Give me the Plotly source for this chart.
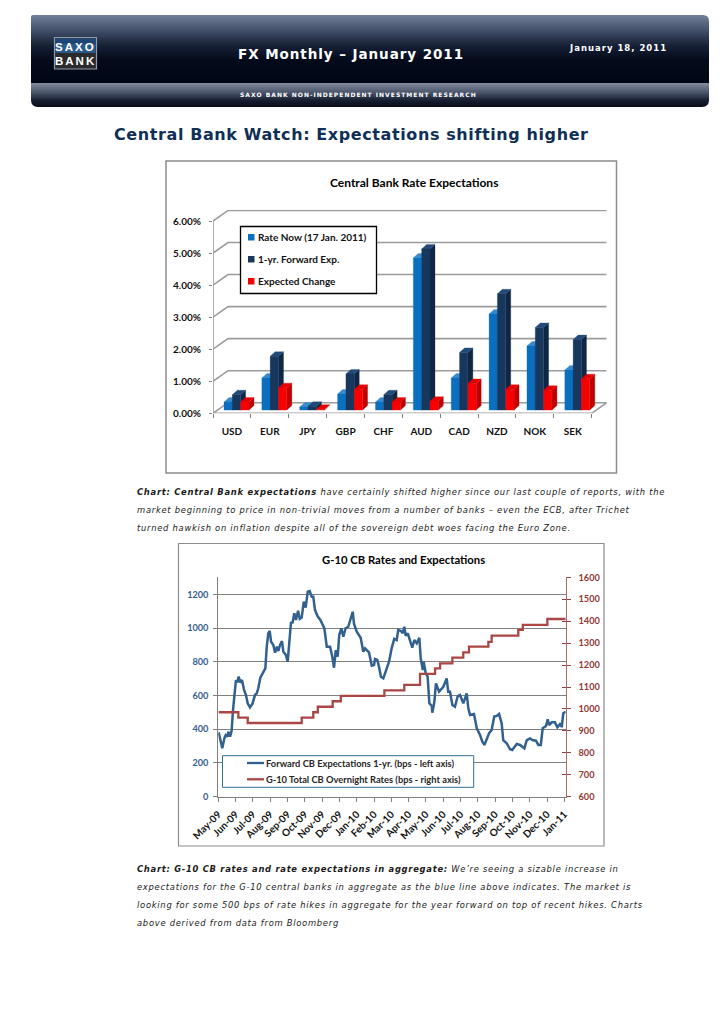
import plotly.graph_objects as go

W, H = 728, 1030

# ---------- data: chart 1 ----------
currencies = ["USD", "EUR", "JPY", "GBP", "CHF", "AUD", "CAD", "NZD", "NOK", "SEK"]
rate_now = [0.25, 1.00, 0.10, 0.50, 0.25, 4.75, 1.00, 3.00, 2.00, 1.25]
forward_exp = [0.48, 1.68, 0.12, 1.13, 0.48, 5.03, 1.80, 3.63, 2.58, 2.20]
expected_change = [0.25, 0.70, 0.03, 0.65, 0.25, 0.28, 0.83, 0.65, 0.62, 0.98]
pct_ticks = [0, 1, 2, 3, 4, 5, 6]
pct_labels = ["0.00%", "1.00%", "2.00%", "3.00%", "4.00%", "5.00%", "6.00%"]

# ---------- data: chart 2 ----------
month_labels = ["May-09", "Jun-09", "Jul-09", "Aug-09", "Sep-09", "Oct-09", "Nov-09", "Dec-09", "Jan-10", "Feb-10",
                "Mar-10", "Apr-10", "May-10", "Jun-10", "Jul-10", "Aug-10", "Sep-10", "Oct-10", "Nov-10", "Dec-10", "Jan-11"]
fwd_month = [0.02, 0.12, 0.23, 0.35, 0.43, 0.54, 0.58, 0.68, 0.77, 0.85, 0.92, 1.02, 1.10, 1.18, 1.27, 1.37, 1.49,
             1.60, 1.70, 1.83, 1.97, 2.12, 2.22, 2.31, 2.43, 2.60, 2.72, 2.80, 2.89, 2.97, 3.05, 3.18, 3.28, 3.39,
             3.47, 3.57, 3.68, 3.76, 3.91, 4.01, 4.10, 4.20, 4.30, 4.39, 4.49, 4.61, 4.71, 4.82, 4.94, 5.05, 5.17,
             5.28, 5.40, 5.49, 5.59, 5.75, 5.90, 6.13, 6.27, 6.46, 6.59, 6.69, 6.79, 6.90, 6.99, 7.11, 7.23, 7.36,
             7.51, 7.67, 7.77, 7.84, 8.00, 8.23, 8.38, 8.48, 8.71, 8.87, 9.00, 9.06, 9.19, 9.29, 9.40, 9.54, 9.73,
             9.87, 10.02, 10.17, 10.31, 10.40, 10.56, 10.66, 10.75, 10.83, 10.95, 11.08, 11.21, 11.33, 11.47, 11.62,
             11.70, 11.82, 11.87, 11.99, 12.10, 12.20, 12.34, 12.37, 12.49, 12.58, 12.76, 13.01, 13.20, 13.29, 13.39,
             13.53, 13.68, 13.84, 13.97, 14.16, 14.36, 14.45, 14.55, 14.78, 14.94, 15.13, 15.26, 15.38, 15.51, 15.65,
             15.80, 15.95, 16.09, 16.23, 16.38, 16.47, 16.67, 16.86, 16.99, 17.25, 17.44, 17.69, 17.83, 18.02, 18.15,
             18.36, 18.50, 18.64, 18.75, 18.94, 19.04, 19.12, 19.27, 19.46, 19.60, 19.79, 19.85, 19.94, 20.08]
fwd_bps = [382, 336, 287, 346, 366, 356, 385, 356, 391, 514, 590, 692, 678, 712, 678, 692, 633,
           603, 554, 530, 550, 603, 613, 643, 706, 741, 761, 890, 969, 983, 919, 900, 854, 890,
           864, 900, 923, 860, 840, 801, 939, 1032, 1034, 1088, 1048, 1103, 1054, 1062, 1157, 1121, 1216,
           1220, 1186, 1186, 1107, 1068, 1048, 999, 890, 890, 830, 765, 870, 830, 959, 999, 949, 999,
           1008, 1058, 1097, 1028, 979, 943, 860, 880, 856, 777, 781, 817, 811, 771, 712, 702, 761,
           801, 880, 936, 929, 989, 983, 969, 1008, 955, 969, 919, 884, 929, 910, 943,
           821, 751, 801, 732, 712, 554, 538, 498, 563, 672, 623, 652, 702, 623, 623,
           544, 534, 597, 603, 554, 613, 524, 485, 491, 406, 366, 326, 307, 336, 376,
           396, 475, 479, 491, 435, 336, 317, 281, 277, 313, 307, 287, 336, 346, 336,
           332, 307, 307, 406, 419, 459, 425, 441, 441, 412, 435, 412, 495, 504]
cb_month = [0.02, 1.16, 1.70, 4.82, 5.49, 5.75, 6.61, 7.08, 9.60, 10.75, 11.66, 12.53, 12.82, 13.53, 14.16, 14.49,
            15.61, 15.80, 17.34, 17.60, 19.02, 20.08]
cb_bps = [985, 960, 936, 960, 985, 1010, 1035, 1060, 1085, 1110, 1160, 1185, 1208, 1234, 1258, 1284,
          1306, 1334, 1360, 1383, 1410, 1410]
left_ticks = [0, 200, 400, 600, 800, 1000, 1200]
right_ticks = [600, 700, 800, 900, 1000, 1100, 1200, 1300, 1400, 1500, 1600]

# ---------- texts ----------
para1 = ["<b>Chart: Central Bank expectations</b> have certainly shifted higher since our last couple of reports, with the",
         "market beginning to price in non-trivial moves from a number of banks – even the ECB, after Trichet",
         "turned hawkish on inflation despite all of the sovereign debt woes facing the Euro Zone."]
para2 = ["<b>Chart: G-10 CB rates and rate expectations in aggregate:</b> We’re seeing a sizable increase in",
         "expectations for the G-10 central banks in aggregate as the blue line above indicates. The market is",
         "looking for some 500 bps of rate hikes in aggregate for the year forward on top of recent hikes. Charts",
         "above derived from data from Bloomberg"]

# ---------- helpers ----------
fx = lambda p: p / W
fy = lambda p: 1 - p / H
shapes, annos = [], []


def rect(x0, y0, x1, y1, fill=None, line=None, lw=1, layer="below"):
    shapes.append(dict(type="rect", xref="paper", yref="paper", x0=fx(x0), x1=fx(x1), y0=fy(y0), y1=fy(y1),
                       fillcolor=fill or "rgba(0,0,0,0)", line=dict(color=line or "rgba(0,0,0,0)", width=lw if line else 0),
                       layer=layer))


def txt(x, y, s, size, color="#000", family="Lato", anchor="left", spacing=None, style="normal", weight="normal"):
    if spacing is not None:
        s = f'<span style="letter-spacing:{spacing}px">{s}</span>'
    annos.append(dict(xref="paper", yref="paper", x=fx(x), y=fy(y), text=s, showarrow=False, xanchor=anchor,
                      yanchor="middle", align=anchor, borderpad=0,
                      font=dict(size=size, color=color, family=family, style=style, weight=weight)))


def lerp_stops(stops, y):
    for (y0, c0), (y1, c1) in zip(stops, stops[1:]):
        if y0 <= y <= y1:
            t = (y - y0) / (y1 - y0)
            return "rgb(%d,%d,%d)" % tuple(round(a + (b - a) * t) for a, b in zip(c0, c1))
    return "rgb(0,0,0)"


def corner(cx, cy, dx, dy):
    # white mask of a rounded corner; (cx, cy) is the square corner, dx/dy point inwards
    p = lambda a, b: f"{fx(a):.5f},{fy(b):.5f}"
    shapes.append(dict(type="path", xref="paper", yref="paper", layer="below", fillcolor="white", line=dict(width=0),
                       path=f"M{p(cx, cy)} L{p(cx + dx, cy)} Q{p(cx, cy)} {p(cx, cy + dy)} Z"))


# ---------- header band ----------
top_stops = [(15, (112, 126, 150)), (28, (72, 86, 112)), (45, (22, 32, 54)), (60, (3, 10, 26)), (83, (0, 6, 20))]
low_stops = [(83, (128, 138, 156)), (92, (74, 84, 106)), (100, (22, 30, 48)), (107, (6, 10, 24))]
for yy in range(15, 83):
    rect(31, yy, 709, yy + 1, fill=lerp_stops(top_stops, yy))
for yy in range(83, 107):
    rect(31, yy, 709, yy + 1, fill=lerp_stops(low_stops, yy))
corner(31, 107, 7, -7)
corner(709, 107, -7, -7)
corner(709, 15, -6, 6)
corner(31, 15, 2, 2)
# logo
rect(54.5, 37.5, 96.5, 69, line="#8f9aa8", lw=1.2, fill="#2b2b2e")
rect(55.5, 38.5, 95.5, 53, fill="#2a5a8c")
rect(55.5, 38.5, 95.5, 44, fill="#1d4674")
txt(75.5, 46.5, "SAXO", 11.5, "#ffffff", "Liberation Sans", "center", 2, weight="bold")
txt(75.5, 61, "BANK", 11.5, "#ffffff", "Liberation Sans", "center", 2, weight="bold")
txt(350.5, 54, "FX Monthly – January 2011", 13.5, "#ffffff", "DejaVu Sans", "center", 0.94, weight="bold")
txt(617.5, 48, "January 18, 2011", 8.5, "#ffffff", "DejaVu Sans", "center", 1, weight="bold")
txt(358.5, 95, "SAXO BANK NON-INDEPENDENT INVESTMENT RESEARCH", 6, "#ffffff", "DejaVu Sans", "center", 1.02, weight="bold")
txt(351, 135, "Central Bank Watch: Expectations shifting higher", 16, "#0f2f57", "DejaVu Sans", "center", 0.6, weight="bold")

# ---------- chart frames ----------
rect(166, 161, 616.5, 473, fill="#ffffff", line="#8c8c8c", lw=1.5)
rect(178.5, 543.5, 604, 846, fill="#ffffff", line="#8c8c8c", lw=1.2)

# ---------- body text ----------
for s, y in zip(para1, [492, 510, 528]):
    txt(136, y, s, 8.4, "#1a1a1a", "DejaVu Sans", "left", 0.72, style="italic")
for s, y in zip(para2, [869, 887, 905, 923]):
    txt(136, y, s, 8.4, "#1a1a1a", "DejaVu Sans", "left", 0.72, style="italic")

# ---------- chart 1 geometry in data units ----------
depth_x, depth_y = 0.396, 0.33          # floor depth
bar_w, bar_dx, bar_dy = 0.22, 0.132, 0.14   # bar width and its 3-D offset
bar_shift, bar_base = 0.12, 0.10
x_lo, x_hi = -0.5, 9.5
fig = go.Figure()


def wall_line(xs, ys):
    fig.add_trace(go.Scatter(x=xs, y=ys, mode="lines", line=dict(color="#9c9c9c", width=1.6),
                             showlegend=False, hoverinfo="skip", xaxis="x", yaxis="y"))


for t in pct_ticks:
    wall_line([x_lo, x_lo + depth_x, x_hi + depth_x], [t, t + depth_y, t + depth_y])
wall_line([x_hi, x_hi + depth_x], [0, depth_y])
wall_line([x_lo, x_lo], [0, 6])
wall_line([x_lo, x_hi], [0, 0])


def bar_series(name, values, slot, front, side, top):
    fx_, fy_, sx_, sy_, tx_, ty_ = [], [], [], [], [], []
    for i, v in enumerate(values):
        x0 = i + bar_shift + (slot - 1.5) * bar_w
        x1 = x0 + bar_w
        b, h = bar_base, bar_base + v
        fx_ += [x0, x1, x1, x0, x0, None]
        fy_ += [b, b, h, h, b, None]
        sx_ += [x1, x1 + bar_dx, x1 + bar_dx, x1, x1, None]
        sy_ += [b, b + bar_dy, h + bar_dy, h, b, None]
        tx_ += [x0, x1, x1 + bar_dx, x0 + bar_dx, x0, None]
        ty_ += [h, h, h + bar_dy, h + bar_dy, h, None]
    for xs, ys, c, nm in ((sx_, sy_, side, " side"), (tx_, ty_, top, " top"), (fx_, fy_, front, "")):
        fig.add_trace(go.Scatter(x=xs, y=ys, mode="lines", fill="toself", fillcolor=c, line=dict(color=c, width=0.3),
                                 name=name + nm, showlegend=False, hoverinfo="skip", xaxis="x", yaxis="y"))


bar_series("Rate Now (17 Jan. 2011)", rate_now, 0, "#0a6fbe", "#0b4f8e", "#3b8bcb")
bar_series("1-yr. Forward Exp.", forward_exp, 1, "#17375e", "#0f2745", "#234a78")
bar_series("Expected Change", expected_change, 2, "#f80000", "#bf0000", "#e80000")

# ---------- chart 2 traces ----------
fig.add_trace(go.Scatter(x=cb_month, y=cb_bps, mode="lines", line=dict(color="#aa4643", width=2.3, shape="hv"),
                         name="G-10 Total CB Overnight Rates (bps - right axis)", showlegend=False, xaxis="x2", yaxis="y3",
                         cliponaxis=False))
fig.add_trace(go.Scatter(x=fwd_month, y=fwd_bps, mode="lines", line=dict(color="#32608f", width=2.5),
                         name="Forward CB Expectations 1-yr. (bps - left axis)", showlegend=False, xaxis="x2", yaxis="y2",
                         cliponaxis=False))
fig.add_trace(go.Scatter(x=[None], y=[None], showlegend=False, xaxis="x2", yaxis="y4"))

# ---------- titles and hand-placed legends ----------
txt(414, 182, "Central Bank Rate Expectations", 12, "#000", "Lato", "center", weight="bold")
txt(403.5, 559, "G-10 CB Rates and Expectations", 11.3, "#000", "Lato", "center", weight="bold")

rect(240.5, 226.5, 376.5, 293.5, fill="#ffffff", line="#000000", lw=1.3, layer="above")
for y, c, s in [(237, "#0a6fbe", "Rate Now (17 Jan. 2011)"), (259, "#17375e", "1-yr. Forward Exp."), (281, "#f00000", "Expected Change")]:
    rect(248, y - 3, 254.5, y + 3.5, fill=c, layer="above")
    txt(257, y, s, 10, "#111", "Lato", weight="bold")

rect(222.5, 755.7, 473.7, 787.3, fill="#ffffff", line="#31708f", lw=1, layer="above")
for y, c, s in [(763, "#32608f", "Forward CB Expectations 1-yr. (bps - left axis)"),
                (779.3, "#aa4643", "G-10 Total CB Overnight Rates (bps - right axis)")]:
    shapes.append(dict(type="line", xref="paper", yref="paper", x0=fx(247), x1=fx(264), y0=fy(y), y1=fy(y),
                       line=dict(color=c, width=2.3), layer="above"))
    txt(264.5, y, s, 9.3, "#262626", "Lato", weight="bold")

# ---------- layout ----------
GRAY = "#808080"
tick_bold = dict(family="Lato", size=10, color="#111", weight=700)
fig.update_layout(
    template="none",
    width=W, height=H, margin=dict(l=0, r=0, t=0, b=0, pad=0, autoexpand=False), paper_bgcolor="white", plot_bgcolor="rgba(0,0,0,0)",
    showlegend=False, shapes=shapes, annotations=annos,
    xaxis=dict(domain=[fx(213), fx(606.7)], range=[x_lo, x_hi + depth_x], anchor="y", showgrid=False, zeroline=False,
               tickmode="array", tickvals=list(range(10)), ticktext=currencies, ticks="", showline=False, automargin=False,
               tickfont=tick_bold, ticklabelstandoff=11,
               minor=dict(tickmode="array", tickvals=[i - 0.5 for i in range(11)], ticks="outside", ticklen=4, tickcolor=GRAY, showgrid=False)),
    yaxis=dict(domain=[fy(413.3), fy(209.7)], range=[0, 6.353], anchor="x", showgrid=False, zeroline=False, automargin=False,
               tickmode="array", tickvals=pct_ticks, ticktext=pct_labels, ticks="outside", ticklen=3, tickcolor=GRAY,
               tickfont=tick_bold, ticklabelstandoff=6),
    xaxis2=dict(domain=[fx(218.3), fx(565.7)], range=[0, 20.08], anchor="y2", showgrid=False, zeroline=False, automargin=False,
                tickmode="array", tickvals=list(range(21)), ticktext=month_labels, tickangle=-45, ticks="outside", ticklen=4,
                tickcolor=GRAY, showline=True, linecolor=GRAY, linewidth=1, ticklabelstandoff=3,
                tickfont=dict(family="Lato", size=10, color="#111", weight=700)),
    yaxis2=dict(domain=[fy(796.7), fy(577.3)], range=[0, 1301.3], anchor="x2", showgrid=True, gridcolor=GRAY, gridwidth=1,
                zeroline=False, tickmode="array", tickvals=left_ticks, ticks="outside", ticklen=4, tickcolor=GRAY, automargin=False,
                showline=True, linecolor=GRAY, linewidth=1, ticklabelstandoff=3,
                tickfont=dict(family="Lato", size=9.2, color="#376092", weight=700)),
    yaxis3=dict(domain=[fy(796.7), fy(577.3)], range=[600, 1600], anchor="x2", overlaying="y2", side="right", showgrid=False,
                zeroline=False, tickmode="array", tickvals=right_ticks, ticks="outside", ticklen=4, tickcolor="#8e3f3e", automargin=False,
                showline=True, linecolor="#a56d6c", linewidth=1, ticklabelstandoff=6,
                tickfont=dict(family="Lato", size=9.2, color="#953735", weight=700)),
    yaxis4=dict(domain=[fy(796.7), fy(577.3)], range=[600, 1600], anchor="x2", overlaying="y2", side="right", showgrid=False,
                zeroline=False, tickmode="array", tickvals=right_ticks, ticks="inside", ticklen=4, tickcolor="#8e3f3e", automargin=False,
                showticklabels=False, showline=False),
)

fig.write_html("out.html", config={"displayModeBar": False},
               post_script="document.body.style.margin='0';document.body.style.overflow='hidden';")
